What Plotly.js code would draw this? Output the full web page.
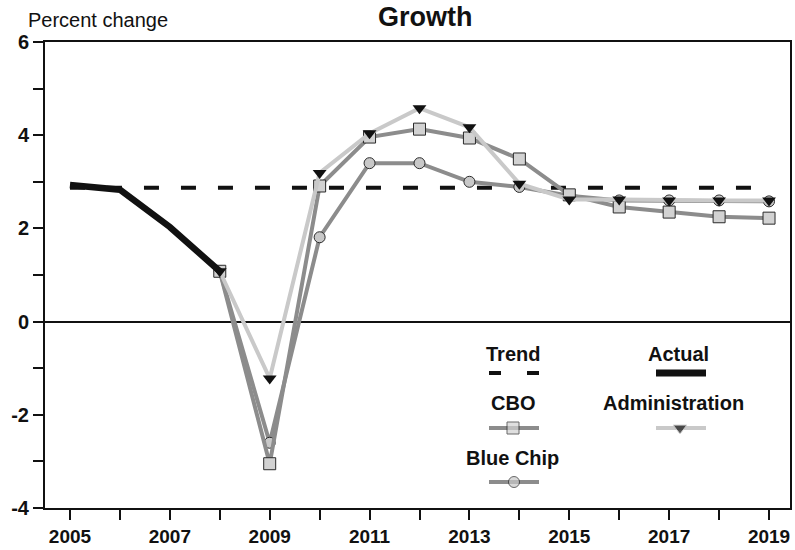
<!DOCTYPE html>
<html>
<head>
<meta charset="utf-8">
<script src="https://cdn.plot.ly/plotly-3.0.1.min.js"></script>
<style>html,body{margin:0;padding:0;background:#fff;}#chart{width:795px;height:550px;}</style>
</head>
<body>
<div id="chart"></div>
<script>
// ---- Data (percent change, real GDP growth) ----
const years = [2005,2006,2007,2008,2009,2010,2011,2012,2013,2014,2015,2016,2017,2018,2019];
const actualYears = [2005,2006,2007,2008];
const actual = [2.93,2.83,2.03,1.08];
const trendYears = [2005,2019];
const trend = [2.87,2.87];
const forecastYears = [2008,2009,2010,2011,2012,2013,2014,2015,2016,2017,2018,2019];
const cbo = [1.08,-3.05,2.91,3.96,4.13,3.94,3.49,2.72,2.46,2.35,2.25,2.22];
const blueChip = [1.08,-2.6,1.81,3.40,3.40,3.00,2.89,2.70,2.60,2.60,2.60,2.58];
const administration = [1.08,-1.22,3.19,4.04,4.58,4.17,2.96,2.62,2.62,2.60,2.60,2.60];
const yTickVals = [-4,-3,-2,-1,0,1,2,3,4,5,6];
const yTickText = ['-4','','-2','','0','','2','','4','','6'];
const xTickText = years.map(y => (y % 2 === 1 ? String(y) : ''));
const chartTitle = 'Growth';
const yUnit = 'Percent change';
const legendNames = ['Trend','Actual','CBO','Administration','Blue Chip'];

const FONT = 'Liberation Sans, Arial, Helvetica, sans-serif';
const cboLine = '#8c8c8c', bcLine = '#8c8c8c', admLine = '#c9c9c9';
const sqFill = '#d2d2d2', circFill = '#c8c8c8', edge = '#2a2a2a';

// legend layout (in overlay-axis units 0..1 over the plot area)
const px = v => (v - 45) / 745;
const py = v => (508 - v) / 466;

const traces = [
  {x: trendYears, y: trend, mode: 'lines', line: {color: '#111', width: 4, dash: '15px,22px'}, hoverinfo: 'skip'},
  {x: forecastYears, y: blueChip, mode: 'lines+markers', line: {color: bcLine, width: 4},
   marker: {symbol: 'circle', size: 11, color: circFill, line: {color: edge, width: 1}}},
  {x: forecastYears, y: cbo, mode: 'lines+markers', line: {color: cboLine, width: 4},
   marker: {symbol: 'square', size: 12, color: sqFill, line: {color: edge, width: 1}}},
  {x: forecastYears, y: administration, mode: 'lines+markers', line: {color: admLine, width: 4},
   marker: {symbol: 'triangle-down', size: 12, color: '#111', line: {color: '#111', width: 0}}},
  {x: actualYears, y: actual, mode: 'lines', line: {color: '#111', width: 6.5}},
  // legend samples on overlay axes
  {x: [px(489), px(539)], y: [py(373), py(373)], xaxis: 'x2', yaxis: 'y2', mode: 'lines',
   line: {color: '#111', width: 4, dash: '12px,26px'}},
  {x: [px(656), px(706)], y: [py(373), py(373)], xaxis: 'x2', yaxis: 'y2', mode: 'lines',
   line: {color: '#111', width: 7}},
  {x: [px(489), px(513), px(539)], y: [py(428), py(428), py(428)], xaxis: 'x2', yaxis: 'y2', mode: 'lines+markers',
   line: {color: cboLine, width: 4}, marker: {symbol: 'square', size: [0, 12, 0], color: sqFill, line: {color: edge, width: [0, 1, 0]}}},
  {x: [px(656), px(680), px(706)], y: [py(428), py(428), py(428)], xaxis: 'x2', yaxis: 'y2', mode: 'lines+markers',
   line: {color: admLine, width: 4}, marker: {symbol: 'triangle-down', size: [0, 12, 0], color: '#111'}},
  {x: [px(489), px(514), px(539)], y: [py(482), py(482), py(482)], xaxis: 'x2', yaxis: 'y2', mode: 'lines+markers',
   line: {color: bcLine, width: 4}, marker: {symbol: 'circle', size: [0, 11, 0], color: circFill, line: {color: edge, width: [0, 1, 0]}}}
];

const legendText = [
  {t: legendNames[0], x: 513, y: 354},
  {t: legendNames[1], x: 678, y: 354},
  {t: legendNames[2], x: 513, y: 403},
  {t: legendNames[3], x: 673, y: 403},
  {t: legendNames[4], x: 512, y: 458}
];

const annotations = legendText.map(a => ({
  text: a.t, xref: 'paper', yref: 'paper', x: px(a.x), y: py(a.y),
  xanchor: 'center', yanchor: 'middle', showarrow: false,
  font: {family: FONT, size: 20, color: '#111', weight: 'bold'}
}));
annotations.push({
  text: yUnit, xref: 'paper', yref: 'paper', x: px(26), y: py(20), xanchor: 'left', yanchor: 'middle',
  showarrow: false, font: {family: FONT, size: 20, color: '#111'}
});
annotations.push({
  text: chartTitle, xref: 'paper', yref: 'paper', x: px(425), y: py(0), xanchor: 'center', yanchor: 'top',
  showarrow: false, font: {family: FONT, size: 27, color: '#111', weight: 'bold'}
});

const layout = {
  width: 795, height: 550,
  margin: {l: 45, r: 5, t: 42, b: 42, pad: 0},
  paper_bgcolor: '#fff', plot_bgcolor: '#fff',
  showlegend: false,
  xaxis: {
    range: [2004.5, 2019.42], tickmode: 'array', tickvals: years, ticktext: xTickText,
    ticks: 'outside', ticklen: 10, tickwidth: 2, tickcolor: '#111',
    showline: true, linecolor: '#111', linewidth: 2, mirror: true,
    showgrid: false, zeroline: false, ticklabelstandoff: 0,
    tickfont: {family: FONT, size: 19, color: '#111', weight: 'bold'}
  },
  yaxis: {
    range: [-4, 6], tickmode: 'array', tickvals: yTickVals, ticktext: yTickText,
    ticks: 'outside', ticklen: 10, tickwidth: 2, tickcolor: '#111',
    showline: true, linecolor: '#111', linewidth: 2, mirror: true,
    showgrid: false, zeroline: true, zerolinecolor: '#111', zerolinewidth: 2,
    tickfont: {family: FONT, size: 20, color: '#111', weight: 'bold'}
  },
  xaxis2: {overlaying: 'x', range: [0, 1], visible: false, anchor: 'y2'},
  yaxis2: {overlaying: 'y', range: [0, 1], visible: false, anchor: 'x2'},
  annotations: annotations
};

Plotly.newPlot('chart', traces, layout, {displayModeBar: false, staticPlot: true});
</script>
</body>
</html>
